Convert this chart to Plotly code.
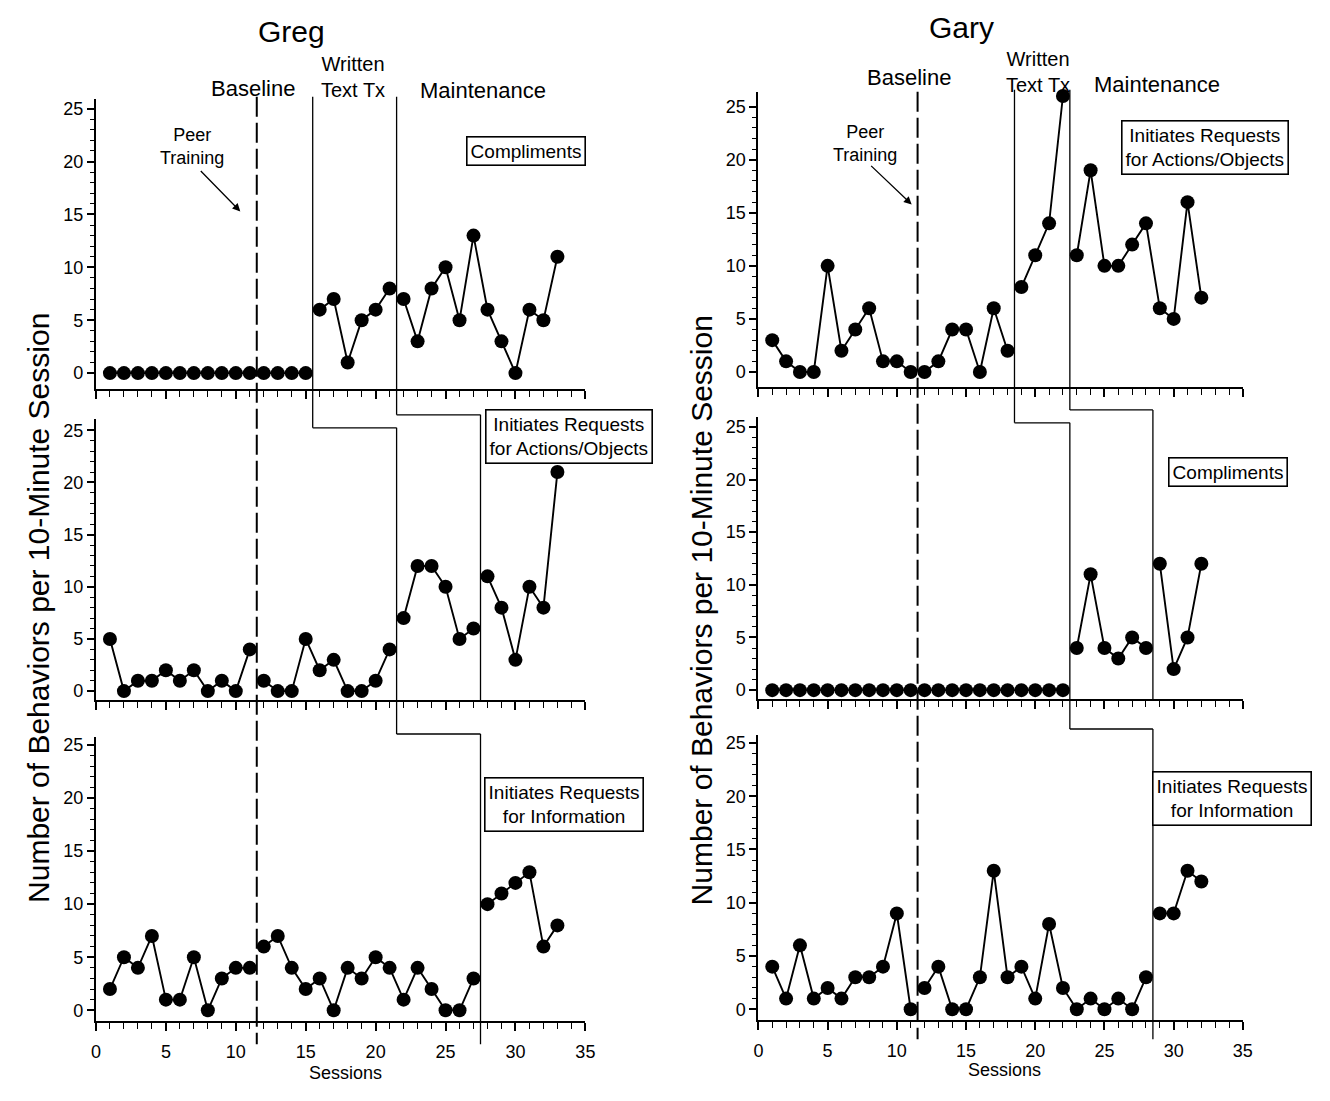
import plotly.graph_objects as go

W, H = 1330, 1101

# ---------------- data ----------------
greg_sessions = list(range(1, 34))
gary_sessions = list(range(1, 33))

greg_compliments = [0, 0, 0, 0, 0, 0, 0, 0, 0, 0, 0, 0, 0, 0, 0,
                    6, 7, 1, 5, 6, 8,
                    7, 3, 8, 10, 5, 13, 6, 3, 0, 6, 5, 11]
greg_actions = [5, 0, 1, 1, 2, 1, 2, 0, 1, 0, 4,
                1, 0, 0, 5, 2, 3, 0, 0, 1, 4,
                7, 12, 12, 10, 5, 6,
                11, 8, 3, 10, 8, 21]
greg_information = [2, 5, 4, 7, 1, 1, 5, 0, 3, 4, 4,
                    6, 7, 4, 2, 3, 0, 4, 3, 5, 4, 1, 4, 2, 0, 0, 3,
                    10, 11, 12, 13, 6, 8]

gary_actions = [3, 1, 0, 0, 10, 2, 4, 6, 1, 1, 0,
                0, 1, 4, 4, 0, 6, 2,
                8, 11, 14, 26,
                11, 19, 10, 10, 12, 14, 6, 5, 16, 7]
gary_compliments = [0, 0, 0, 0, 0, 0, 0, 0, 0, 0, 0,
                    0, 0, 0, 0, 0, 0, 0, 0, 0, 0, 0,
                    4, 11, 4, 3, 5, 4,
                    12, 2, 5, 12]
gary_information = [4, 1, 6, 1, 2, 1, 3, 3, 4, 9, 0,
                    2, 4, 0, 0, 3, 13, 3, 4, 1, 8, 2, 0, 1, 0, 1, 0, 3,
                    9, 9, 13, 12]

x_ticks = [0, 5, 10, 15, 20, 25, 30, 35]
y_ticks = [0, 5, 10, 15, 20, 25]

# phase changes (session boundaries) per panel
baseline_end = 11.5
greg_tx_start = [15.5, 21.5, 27.5]
greg_maint_start = [21.5, 27.5]
gary_tx_start = [18.5, 22.5, 28.5]
gary_maint_start = [22.5, 28.5]

greg_labels = ["Compliments",
               "Initiates Requests<br>for Actions/Objects",
               "Initiates Requests<br>for Information"]
gary_labels = ["Initiates Requests<br>for Actions/Objects",
               "Compliments",
               "Initiates Requests<br>for Information"]

phase_names = ["Baseline", "Written<br>Text Tx", "Maintenance"]

# ---------------- geometry (pixels) ----------------
FONT = "Liberation Sans, Arial, Helvetica, sans-serif"
greg_xpx = (92, 587)
gary_xpx = (762, 1252)
# (top px, bottom px, ymin, ymax)
greg_panels = [(97, 388, -1.5, 25.94), (418, 700, -0.86, 26.1), (737, 1022, -1.03, 25.75)]
gary_panels = [(90, 386, -1.41, 26.4), (416, 699, -0.85, 25.95), (735, 1021, -1.03, 25.75)]


def px(xp):
    return xp / W


def py(yp):
    return 1 - yp / H


def segments(sessions, values, breaks):
    xs, ys = [], []
    prev = None
    for s, v in zip(sessions, values):
        if prev is not None and any(prev < b < s for b in breaks):
            xs.append(None)
            ys.append(None)
        xs.append(s)
        ys.append(v)
        prev = s
    return xs, ys


fig = go.Figure()
layout = {}

people = [
    ("greg", greg_sessions, [greg_compliments, greg_actions, greg_information],
     greg_xpx, greg_panels, greg_tx_start, greg_maint_start, 1),
    ("gary", gary_sessions, [gary_actions, gary_compliments, gary_information],
     gary_xpx, gary_panels, gary_tx_start, gary_maint_start, 4),
]

for name, sess, series, xpx, panels, tx, mt, first_id in people:
    for i in range(3):
        aid = first_id + i
        xname = "xaxis" if aid == 1 else f"xaxis{aid}"
        yname = "yaxis" if aid == 1 else f"yaxis{aid}"
        xr = "x" if aid == 1 else f"x{aid}"
        yr = "y" if aid == 1 else f"y{aid}"
        top, bot, ymin, ymax = panels[i]
        breaks = [baseline_end, tx[i]] + ([mt[i]] if i < len(mt) else [])
        xs, ys = segments(sess, series[i], breaks)
        fig.add_trace(go.Scatter(
            x=xs, y=ys, mode="lines+markers", xaxis=xr, yaxis=yr,
            line=dict(color="black", width=1.9),
            marker=dict(color="black", size=14),
            cliponaxis=False, connectgaps=False, showlegend=False,
            hoverinfo="skip"))
        layout[xname] = dict(
            domain=[px(xpx[0]), px(xpx[1])], anchor=yr, range=[0, 35],
            showline=True, linecolor="black", linewidth=2.4,
            ticks="outside", tickvals=x_ticks, ticklen=8, tickwidth=1.6, tickcolor="black",
            minor=dict(tickvals=list(range(0, 36)), ticks="outside", ticklen=6,
                       tickwidth=1.3, tickcolor="black"),
            showticklabels=(i == 2), showgrid=False, zeroline=False,
            ticklabelstandoff=5,
            tickfont=dict(size=18, color="black", family=FONT), fixedrange=True)
        layout[yname] = dict(
            domain=[py(bot), py(top)], anchor=xr, range=[ymin, ymax],
            showline=True, linecolor="black", linewidth=2,
            ticks="outside", tickvals=y_ticks, ticklen=7, tickwidth=1.6, tickcolor="black",
            minor=dict(tickvals=list(range(0, 26)), ticks="outside", ticklen=4,
                       tickwidth=1.2, tickcolor="black"),
            showgrid=False, zeroline=False,
            tickfont=dict(size=18, color="black", family=FONT), fixedrange=True)

shapes = []


def vline(xref, x, y0p, y1p, width=1.3, dash="solid"):
    shapes.append(dict(type="line", xref=xref, yref="paper", x0=x, x1=x,
                       y0=py(y0p), y1=py(y1p),
                       line=dict(color="black", width=width, dash=dash)))


def hline(xref, x0, x1, yp, width=1.3):
    shapes.append(dict(type="line", xref=xref, yref="paper", x0=x0, x1=x1,
                       y0=py(yp), y1=py(yp),
                       line=dict(color="black", width=width)))


def stepped(xref, xs, top, steps, bottom):
    ys = [top] + steps + [bottom]
    for i, x in enumerate(xs):
        vline(xref, x, ys[i], ys[i + 1])
        if i < len(xs) - 1:
            hline(xref, xs[i], xs[i + 1], ys[i + 1])


# Greg phase lines
vline("x", baseline_end, 95, 1045, width=2, dash="20px,6px")
stepped("x", greg_tx_start, 95, [427, 734], 1045)
stepped("x", greg_maint_start, 95, [414], 700)
# Gary phase lines
vline("x4", baseline_end, 90, 1040, width=2, dash="20px,6px")
stepped("x4", gary_tx_start, 88, [422, 729], 1040)
stepped("x4", gary_maint_start, 88, [409], 699)

annotations = []


def text(t, xp, yp, size, **kw):
    d = dict(text=t, x=px(xp), y=py(yp), xref="paper", yref="paper",
             showarrow=False, xanchor="center", yanchor="middle",
             font=dict(size=size, color="black", family=FONT))
    d.update(kw)
    annotations.append(d)


# titles
text("Greg", 290, 30, 30)
text("Gary", 967, 26, 30)
# phase labels
text(phase_names[0], 251, 87, 22)
text(phase_names[1], 352, 75, 20)
text(phase_names[2], 483, 89, 22)
text(phase_names[0], 914, 76, 22)
text(phase_names[1], 1045, 70, 20)
text(phase_names[2], 1165, 83, 22)
# peer training
text("Peer<br>Training", 189, 145, 18)
text("Peer<br>Training", 870, 142, 18)
for hx, hy, tx_, ty_ in [(238, 210, 197, 168), (917, 203, 875, 163)]:
    annotations.append(dict(text="", x=px(hx), y=py(hy), xref="paper", yref="paper",
                            showarrow=True, arrowhead=2, arrowsize=1.2, arrowwidth=1.3,
                            arrowcolor="black", ax=tx_ - hx, ay=ty_ - hy))

# boxed behaviour labels
box_kw = dict(bordercolor="black", borderwidth=1.6, borderpad=3, bgcolor="white")
text(greg_labels[0], 527, 149, 19, **box_kw)
text(greg_labels[1], 570, 436, 19, **box_kw)
text(greg_labels[2], 565, 805, 19, **box_kw)
text(gary_labels[0], 1214, 146, 19, **box_kw)
text(gary_labels[1], 1237, 471, 19, **box_kw)
text(gary_labels[2], 1241, 799, 19, **box_kw)

# axis titles
ytitle = "Number of Behaviors per 10-Minute Session"
text(ytitle, 34, 608, 30, textangle=-90)
text(ytitle, 704, 610, 30, textangle=-90)
text("Sessions", 344, 1074, 18)
text("Sessions", 1011, 1071, 18)

fig.update_layout(
    width=W, height=H, margin=dict(l=0, r=0, t=0, b=0),
    paper_bgcolor="white", plot_bgcolor="white",
    font=dict(family=FONT, color="black"),
    shapes=shapes, annotations=annotations, showlegend=False,
    **layout)

fig.write_html("out.html", config={"displayModeBar": False},
               post_script="document.body.style.margin='0px';")
